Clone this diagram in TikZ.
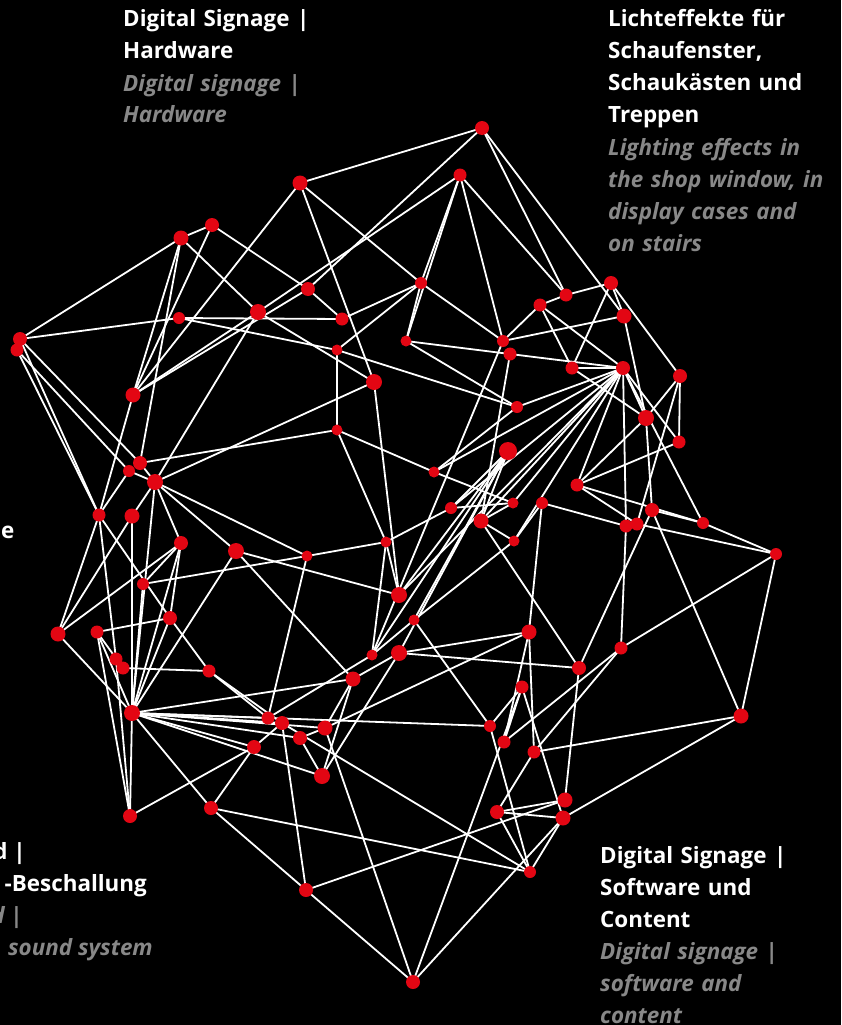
\documentclass[tikz,border=0pt]{standalone}
\usepackage{fontspec}
\setmainfont{Open Sans}
\usetikzlibrary{backgrounds}
\definecolor{dotred}{RGB}{227,6,19}
\definecolor{subgrey}{RGB}{136,136,136}

\begin{document}
\begin{tikzpicture}[x=1pt,y=-1pt,
  dot/.style={circle,fill=dotred,inner sep=0pt},
  link/.style={white,line width=1.8pt},
  head/.style={font=\fontsize{22.4}{32}\selectfont\bfseries,text=white,inner sep=0pt},
  sub/.style={font=\fontsize{22.4}{32}\selectfont\bfseries\itshape,text=subgrey,inner sep=0pt},
  block/.style={anchor=base west,align=left,text width=240pt}]
\useasboundingbox (0,0) rectangle (841,1025);
\clip (0,0) rectangle (841,1025);

% the dots
\foreach \n/\x/\y/\d in {1/482/128/14, 2/300/183/15, 3/460/175/13, 4/181/238/15,
  5/212/225/14, 6/20/339/14, 7/17/350/13, 8/308/289/14, 9/258/312/16, 10/179/318/12,
  11/342/319/13, 12/421/283/12, 13/406/341/11, 14/337/350/11, 15/374/382/16,
  16/133/395/15, 17/337/430/11, 18/140/463/14, 19/129/471/12, 20/155/482/16,
  21/540/305/13, 22/566/295/13, 23/611/283/14, 24/624/316/15, 25/503/341/12,
  26/510/354/13, 27/572/368/13, 28/623/368/14, 29/680/376/14, 30/517/407/12,
  31/646/418/16, 32/679/442/13, 33/508/451/18, 34/434/472/11, 35/577/485/13,
  36/451/508/12, 37/481/521/15, 38/513/503/11, 39/542/503/12, 40/514/541/11,
  41/626/526/13, 42/637/524/13, 43/652/510/14, 44/703/523/12, 45/776/554/12,
  46/99/515/13, 47/132/516/15, 48/181/543/14, 49/236/551/16, 50/307/556/11,
  51/386/542/11, 52/399/595/16, 53/143/584/12, 54/170/618/14, 55/58/634/15,
  56/97/632/13, 57/116/659/13, 58/123/668/13, 59/209/671/13, 60/414/620/11,
  61/372/655/11, 62/399/653/16, 63/353/679/15, 64/529/632/15, 65/579/668/14,
  66/621/648/13, 67/522/687/13, 68/741/716/15, 69/132/713/16, 70/268/718/13,
  71/282/723/14, 72/325/728/15, 73/300/738/14, 74/254/747/14, 75/322/776/16,
  76/490/726/12, 77/504/742/13, 78/534/752/13, 79/565/800/15, 80/497/812/14,
  81/563/818/15, 82/530/872/12, 83/130/816/14, 84/211/808/14, 85/306/890/14,
  86/413/982/14}
  \node[dot,minimum size=\d] (n\n) at (\x,\y) {};

% the lines, behind the dots
\begin{scope}[on background layer]
\fill[black] (0,0) rectangle (841,1025);
\foreach \a/\b in {1/2, 1/8, 1/22, 1/24, 3/9, 3/12, 3/13, 3/22, 3/25, 2/12, 2/15, 2/16,
  4/5, 4/6, 4/9, 4/16, 4/18, 5/8, 5/16, 6/10, 6/18, 6/46, 7/46, 7/19, 8/11, 8/16,
  10/11, 9/15, 9/16, 9/20, 10/14, 11/12, 12/13, 12/14, 12/25, 13/26, 13/30,
  14/17, 14/30, 15/20, 15/52, 16/46, 17/18, 17/34, 17/51, 18/20, 19/20, 19/46,
  20/47, 20/48, 20/49, 20/50, 20/69, 21/22, 21/25, 21/27, 21/28, 22/23, 23/24,
  23/27, 23/29, 24/25, 24/31, 26/28, 27/28, 27/31, 25/61, 26/37,
  28/30, 28/31, 28/32, 28/34, 28/35, 28/36, 28/37, 28/38, 28/40, 28/41, 28/44, 28/52,
  29/31, 29/32, 29/42, 30/34, 31/35, 31/43, 32/35,
  33/36, 33/37, 33/52, 33/60, 33/61, 33/62, 34/38, 35/42, 35/44, 36/38, 36/51,
  37/38, 37/40, 37/65, 39/40, 39/41, 39/64, 40/60, 41/42, 41/66, 42/45, 43/44, 43/65,
  43/68, 44/45, 45/66, 45/68, 46/54, 46/55, 46/57, 47/55, 47/69, 48/53, 48/54,
  48/55, 48/69, 49/52, 49/63, 49/69, 50/51, 50/53, 50/70, 51/52, 51/61, 62/75, 53/69,
  54/56, 54/59, 54/69, 55/69, 56/58, 56/69, 56/83, 57/83, 58/59, 59/70, 59/71,
  60/61, 60/76, 61/70, 62/63, 62/64, 62/65, 63/69, 63/72, 63/75, 64/72, 64/77,
  64/78, 65/79, 66/77, 66/78, 67/76, 67/77, 67/81, 67/86, 68/78, 68/81,
  69/70, 69/71, 69/72, 69/73, 69/74, 69/75, 69/76, 69/83, 69/84,
  71/74, 71/82, 71/85, 72/73, 72/86, 73/75, 74/83, 74/84, 76/82, 78/80,
  79/80, 79/85, 80/81, 80/82, 81/82, 81/86, 82/84, 84/85, 85/86}
  \draw[link] (n\a.center) -- (n\b.center);
\end{scope}

% labels
\node[head,block] (hw) at (123,27) {Digital Signage |\\Hardware};
\node[sub,block] (hwen) at (123,91) {Digital signage |\\Hardware};
\node[head,block] (light) at (608,27) {Lichteffekte für\\Schaufenster,\\Schaukästen und\\Treppen};
\node[sub,block] (lighten) at (608,155) {Lighting effects in\\the shop window, in\\display cases and\\on stairs};
\node[head,block] (soft) at (600,863) {Digital Signage |\\Software und\\Content};
\node[sub,block] (soften) at (600,959) {Digital signage |\\software and\\content};
\node[head,anchor=base west] (cut) at (1,538) {e};
\node[head,anchor=base east] (audio) at (26,859) {d |};
\node[head,anchor=base east] (audiob) at (147,891) {-Beschallung};
\node[sub,anchor=base east] (audioen) at (23,923) {d |};
\node[sub,anchor=base east] (audioenb) at (153,955) {sound system};
\end{tikzpicture}
\end{document}
